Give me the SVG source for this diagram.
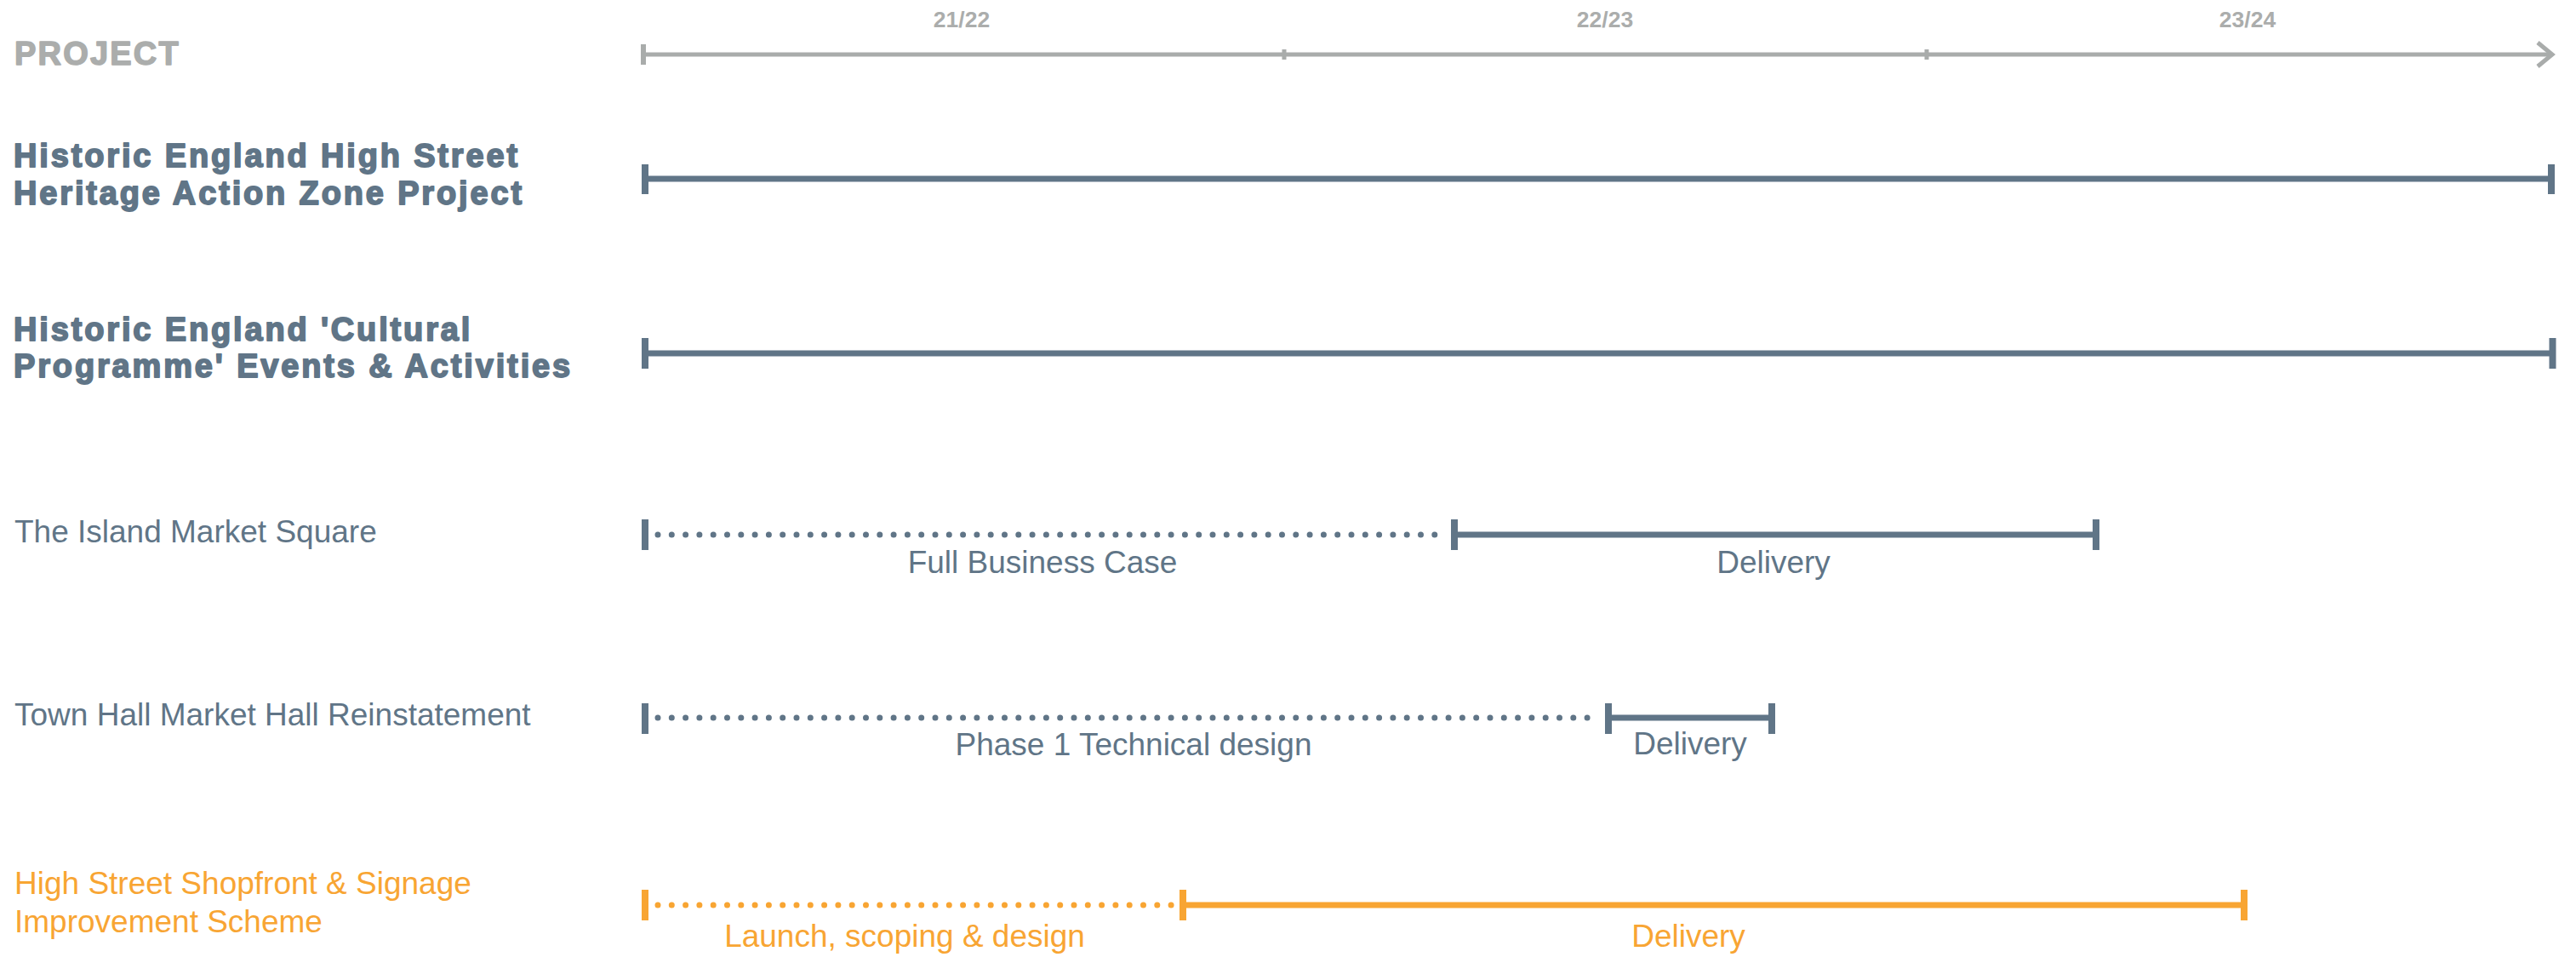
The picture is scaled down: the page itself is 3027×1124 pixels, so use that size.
<svg xmlns="http://www.w3.org/2000/svg" width="3027" height="1124" viewBox="0 0 3027 1124">
  <style>
    .head { font-family: "Liberation Sans", Arial, sans-serif; font-weight: bold; font-size: 38px; letter-spacing: 2.85px; fill: #607587; stroke: #607587; stroke-width: 1.8px; stroke-linejoin: round; }
    .proj { font-family: "Liberation Sans", Arial, sans-serif; font-weight: bold; font-size: 38px; letter-spacing: 2.2px; fill: #abadac; stroke: #abadac; stroke-width: 1.5px; stroke-linejoin: round; }
    .year { font-family: "Liberation Sans", Arial, sans-serif; font-weight: bold; font-size: 26.5px; fill: #abadac; text-anchor: middle; }
    .name { font-family: "Liberation Sans", Arial, sans-serif; font-size: 37px; fill: #607587; }
    .name.orange { fill: #f8a533; }
    .phase { font-family: "Liberation Sans", Arial, sans-serif; font-size: 37px; fill: #607587; text-anchor: middle; }
    .phase.orange { fill: #f8a533; }
    .axis { stroke: #a9acab; stroke-width: 5; fill: none; }
    .bar { stroke: #607587; stroke-width: 7; fill: none; }
    .dots { stroke: #607587; stroke-width: 7; stroke-linecap: round; stroke-dasharray: 0 16.3; fill: none; }
    .cap { fill: #607587; }
    .o .bar, .o .dots { stroke: #f8a533; }
    .o .cap { fill: #f8a533; }
  </style>
  <rect width="3027" height="1124" fill="#ffffff"/>

  <!-- time axis -->
  <g id="axis">
    <text class="proj" x="17" y="76">PROJECT</text>
    <text class="year" x="1130" y="32">21/22</text>
    <text class="year" x="1886" y="32">22/23</text>
    <text class="year" x="2641" y="32">23/24</text>
    <line class="axis" x1="757" y1="64" x2="2997" y2="64"/>
    <rect x="753" y="52" width="6" height="24" fill="#a9acab"/>
    <rect x="1506.5" y="58" width="5" height="12" fill="#a9acab"/>
    <rect x="2261.5" y="58" width="5" height="12" fill="#a9acab"/>
    <polyline class="axis" points="2982,50 2999,64 2982,78" stroke-linejoin="miter"/>
  </g>

  <!-- HAZ programme -->
  <g id="row-haz">
    <text class="head" x="16" y="196">Historic England High Street</text>
    <text class="head" x="16" y="240">Heritage Action Zone Project</text>
    <g id="bar-haz">
      <line class="bar" x1="758" y1="210" x2="2998" y2="210"/>
      <rect class="cap" x="754" y="193" width="8" height="35"/>
      <rect class="cap" x="2994" y="193" width="8" height="35"/>
    </g>
  </g>

  <!-- cultural programme -->
  <g id="row-cultural">
    <text class="head" x="16" y="400">Historic England 'Cultural</text>
    <text class="head" x="16" y="443">Programme' Events &amp; Activities</text>
    <g id="bar-cultural">
      <line class="bar" x1="758" y1="415" x2="2999" y2="415"/>
      <rect class="cap" x="754" y="397" width="8" height="36"/>
      <rect class="cap" x="2995.5" y="397" width="8" height="36"/>
    </g>
  </g>

  <!-- Island Market Square -->
  <g id="row-island">
    <text class="name" x="17" y="637">The Island Market Square</text>
    <g id="bar-island">
      <line class="dots" x1="773" y1="628" x2="1696" y2="628"/>
      <line class="bar" x1="1709" y1="628" x2="2463" y2="628"/>
      <rect class="cap" x="754" y="610" width="8" height="36"/>
      <rect class="cap" x="1705" y="610" width="8" height="36"/>
      <rect class="cap" x="2459" y="610" width="8" height="36"/>
    </g>
    <text class="phase" x="1225" y="673">Full Business Case</text>
    <text class="phase" x="2084" y="673">Delivery</text>
  </g>

  <!-- Town Hall -->
  <g id="row-townhall">
    <text class="name" x="17" y="852">Town Hall Market Hall Reinstatement</text>
    <g id="bar-townhall">
      <line class="dots" x1="773" y1="843" x2="1877" y2="843"/>
      <line class="bar" x1="1890" y1="843" x2="2082" y2="843"/>
      <rect class="cap" x="754" y="826" width="8" height="36"/>
      <rect class="cap" x="1886" y="826" width="8" height="36"/>
      <rect class="cap" x="2078" y="826" width="8" height="36"/>
    </g>
    <text class="phase" x="1332" y="887">Phase 1 Technical design</text>
    <text class="phase" x="1986" y="886">Delivery</text>
  </g>

  <!-- Shopfront scheme -->
  <g id="row-shopfront" class="o">
    <text class="name orange" x="17" y="1050">High Street Shopfront &amp; Signage</text>
    <text class="name orange" x="17" y="1095">Improvement Scheme</text>
    <g id="bar-shopfront">
      <line class="dots" x1="773" y1="1063" x2="1378" y2="1063"/>
      <line class="bar" x1="1390" y1="1063" x2="2637" y2="1063"/>
      <rect class="cap" x="754" y="1045" width="8" height="36"/>
      <rect class="cap" x="1386" y="1045" width="8" height="36"/>
      <rect class="cap" x="2633" y="1045" width="8" height="36"/>
    </g>
    <text class="phase orange" x="1063" y="1112">Launch, scoping &amp; design</text>
    <text class="phase orange" x="1984" y="1112">Delivery</text>
  </g>
</svg>
